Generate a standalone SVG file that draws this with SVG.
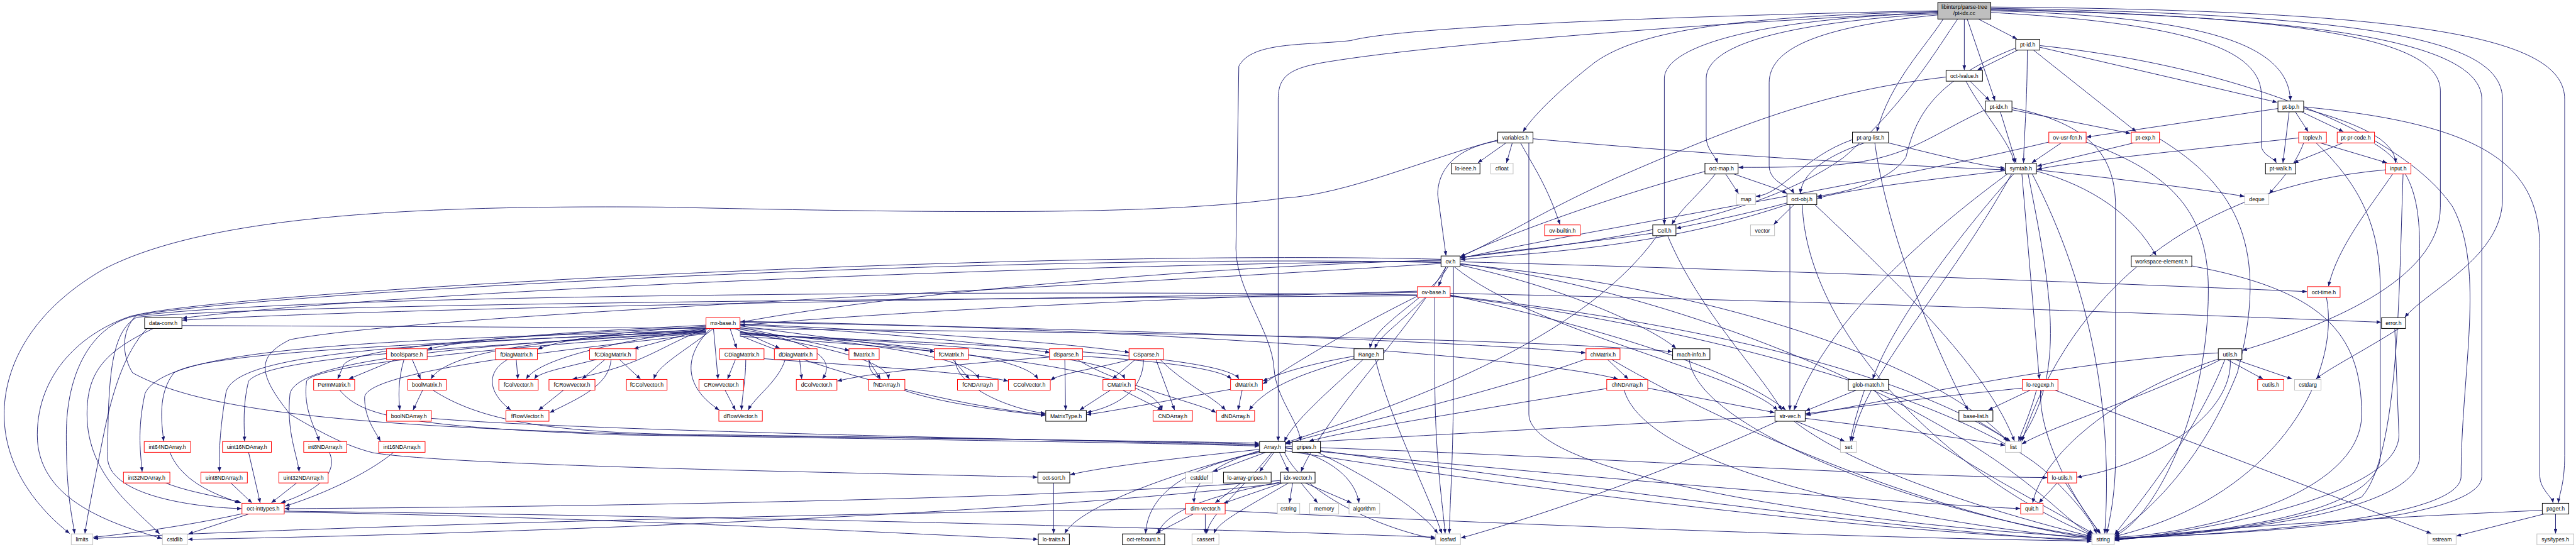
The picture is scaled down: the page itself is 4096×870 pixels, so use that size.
<svg xmlns="http://www.w3.org/2000/svg" width="4096" height="870" viewBox="0 0 4096 870">
<style>
.e path{fill:none;stroke:#191970;stroke-width:1.4;marker-end:url(#a)}
.n rect{fill:#fff;stroke:#000;stroke-width:1.5}
.n.r rect{stroke:#f00}
.n.g rect{stroke:#bfbfbf}
.n.root rect{fill:#bfbfbf}
.n text{font-family:"Liberation Sans",Arial,sans-serif;font-size:13.3px;text-anchor:middle;fill:#000}
</style>
<defs>
<marker id="a" markerUnits="userSpaceOnUse" markerWidth="11" markerHeight="9" viewBox="0 0 11 9" refX="11" refY="4.5" orient="auto"><path d="M0,0L11,4.5L0,9z" fill="#191970"/></marker>
</defs>
<rect width="4096" height="870" fill="#fff"/>
<g transform="scale(0.6588)">
<g id="edges" class="e">
<path d="M4775,46 L4868,94"/>
<path d="M4741,46 L4741,169"/>
<path d="M4748,46 L4815,243"/>
<path d="M4805,26 C5300,40 5524,100 5528,243"/>
<path d="M4805,30 C5250,55 5458,110 5458,230 L5458,350 C5458,375 5488,380 5494,393"/>
<path d="M4805,22 C5600,40 5890,100 5890,220 L5890,500 C5890,680 5600,790 5412,846"/>
<path d="M4805,20 C5750,35 6040,100 6040,240 L6040,480 C6040,620 5860,700 5804,766"/>
<path d="M4805,17 C5900,25 6190,100 6190,240 L6190,1100 C6190,1170 6176,1195 6175,1214"/>
<path d="M4677,28 C4150,40 3950,80 3850,150 C3760,220 3700,280 3676,318"/>
<path d="M4677,31 C4250,45 4017,110 4017,190 L4017,542"/>
<path d="M4677,33 C4300,55 4118,110 4118,190 L4118,330 C4118,360 4140,375 4145,393"/>
<path d="M4677,36 C4380,65 4270,120 4270,200 L4270,400 C4270,440 4320,450 4330,467"/>
<path d="M4725,46 C4680,110 4600,250 4450,380 C4200,560 3700,600 3525,622"/>
<path d="M4690,46 C4650,110 4560,200 4530,318"/>
<path d="M4677,30 C4300,45 3500,100 3200,150 C3110,165 3085,185 3085,240 L3085,1065"/>
<path d="M4677,26 C4200,35 3400,60 3260,98 C3150,110 3020,100 2990,160 L2983,600 C2983,700 3070,800 3075,890 C3080,960 3130,1010 3140,1065"/>
<path d="M4805,24 C5650,40 5990,110 5990,240 L5990,1150 C5990,1260 5400,1290 5104,1299"/>
<path d="M4870,121 L4773,169"/>
<path d="M4893,121 C4893,250 4885,330 4884,393"/>
<path d="M4908,121 L5156,318"/>
<path d="M4923,114 L5496,247"/>
<path d="M4865,116 C4650,200 4620,300 4600,380 C4560,440 4450,465 4386,474"/>
<path d="M4923,110 C5400,160 5800,320 5920,500 C6000,650 5940,900 5940,1150 C5940,1260 5350,1290 5104,1301"/>
<path d="M4755,196 L4802,243"/>
<path d="M4745,196 C4790,280 4850,340 4862,393"/>
<path d="M4697,186 C4400,220 4200,300 3900,430 C3700,520 3600,590 3525,619"/>
<path d="M4856,265 L5142,322"/>
<path d="M4828,270 L4866,393"/>
<path d="M4792,265 C4650,330 4600,390 4400,400 C4300,405 4230,404 4196,404"/>
<path d="M4856,260 C5050,300 5106,380 5106,500 L5106,1100 C5106,1200 5090,1260 5085,1288"/>
<path d="M5498,262 L5036,331"/>
<path d="M5540,270 L5571,318"/>
<path d="M5555,270 L5656,318"/>
<path d="M5525,270 L5510,393"/>
<path d="M5560,262 C5700,300 5780,340 5782,393"/>
<path d="M4558,345 C4700,380 4780,400 4839,406"/>
<path d="M4500,345 C4400,380 4350,420 4345,467"/>
<path d="M4525,345 C4560,600 4700,900 4750,990"/>
<path d="M4471,337 C4350,380 4300,470 4238,474"/>
<path d="M5150,345 L4917,401"/>
<path d="M5212,335 C5400,450 5480,600 5400,900 C5300,1150 5150,1260 5104,1291"/>
<path d="M4975,345 L4904,393"/>
<path d="M4945,343 C4500,450 3800,560 3525,624"/>
<path d="M5035,343 C5250,420 5330,520 5330,700 C5330,1000 5200,1250 5104,1294"/>
<path d="M5548,333 C5300,360 5000,390 4917,409"/>
<path d="M5600,345 L5761,393"/>
<path d="M5560,345 C5540,400 5500,440 5477,468"/>
<path d="M5590,345 C5700,450 5745,550 5745,700 L5745,1100 C5745,1250 5300,1290 5104,1300"/>
<path d="M5655,345 L5536,393"/>
<path d="M5731,347 C5820,400 5840,480 5840,600 L5840,1100 C5840,1250 5300,1290 5104,1302"/>
<path d="M5775,420 C5720,500 5640,600 5620,691"/>
<path d="M5758,410 C5300,450 5000,700 4880,1065"/>
<path d="M5800,420 C5790,700 5790,1100 5700,1200 C5500,1280 5200,1295 5104,1303"/>
<path d="M3635,345 L3567,393"/>
<path d="M3650,345 L3636,393"/>
<path d="M3670,345 C3700,400 3735,450 3765,542"/>
<path d="M3700,335 C4200,380 4600,400 4839,410"/>
<path d="M3615,340 C3500,360 3470,420 3470,470 L3490,617"/>
<path d="M3615,338 C3450,380 3250,470 3100,478 C2800,520 2300,515 1600,500 C1000,495 500,520 250,650 C60,760 10,900 10,1000 C10,1150 120,1250 168,1288"/>
<path d="M3690,345 L3690,1000 C3690,1150 4500,1270 5048,1297"/>
<path d="M4165,420 L4196,467"/>
<path d="M4185,420 C4240,440 4290,455 4313,467"/>
<path d="M4140,420 C4110,460 4060,500 4035,542"/>
<path d="M4115,414 C3900,470 3600,580 3525,620"/>
<path d="M4915,410 C5100,430 5300,455 5417,474"/>
<path d="M4915,413 C5050,450 5150,520 5204,617"/>
<path d="M4840,412 C4600,440 4450,460 4386,479"/>
<path d="M4860,420 C4700,600 4560,800 4520,915"/>
<path d="M4880,420 L4922,915"/>
<path d="M4895,420 C4950,700 4990,900 4875,1065"/>
<path d="M4905,420 C5050,700 5100,1000 5080,1288"/>
<path d="M4855,420 C4700,700 4500,900 4470,1065"/>
<path d="M4845,420 C4600,600 4400,800 4330,990"/>
<path d="M4330,494 L4281,542"/>
<path d="M4313,490 C4200,520 4100,540 4046,551"/>
<path d="M4313,494 C4000,600 3700,610 3525,627"/>
<path d="M4320,494 L4320,990"/>
<path d="M4350,494 C4360,800 4700,1150 5050,1293"/>
<path d="M4380,494 C4600,700 4800,900 4862,1065"/>
<path d="M3989,563 C3800,590 3600,610 3525,622"/>
<path d="M4025,569 C4100,750 4250,900 4300,990"/>
<path d="M4000,569 C3800,850 3300,1000 3103,1069"/>
<path d="M3490,644 L3472,691"/>
<path d="M3495,644 C3450,720 3320,780 3306,841"/>
<path d="M3524,640 C3800,700 4000,800 4045,841"/>
<path d="M3524,632 C4200,650 5000,680 5568,704"/>
<path d="M3478,628 C3000,640 2200,700 1787,778"/>
<path d="M3478,630 C2500,640 1000,700 440,768"/>
<path d="M3510,644 C3700,800 4200,900 4290,990"/>
<path d="M3508,644 L3508,900 C3508,1100 3500,1200 3498,1288"/>
<path d="M3478,634 C2500,610 700,700 320,762 C200,800 90,900 90,1050 C90,1200 250,1260 391,1300"/>
<path d="M3524,636 C4000,700 4500,900 4800,1100 C4950,1200 5000,1270 5050,1290"/>
<path d="M3524,638 C4200,700 4700,900 4845,1065"/>
<path d="M3490,644 C3400,800 3200,1000 3140,1139"/>
<path d="M3478,626 C2500,600 600,700 330,760 C290,800 295,860 320,900 C500,1000 900,1030 1600,1050 C2500,1062 2900,1066 3039,1070"/>
<path d="M3478,636 C2500,700 1000,760 700,820 C620,860 620,900 700,1000 C800,1060 850,1080 900,1093 C1100,1125 2000,1140 2504,1152"/>
<path d="M3440,718 C3380,780 3330,810 3318,841"/>
<path d="M3500,708 C4500,730 5300,760 5747,778"/>
<path d="M3421,706 C2500,720 1000,740 440,773"/>
<path d="M3421,703 C2800,720 2200,750 1787,785"/>
<path d="M3500,712 C3900,800 4200,900 4310,990"/>
<path d="M3463,718 L3463,900 C3463,1100 3480,1200 3488,1288"/>
<path d="M3500,715 C4200,800 4800,1000 4950,1150 C5020,1220 5050,1260 5060,1288"/>
<path d="M3500,714 C4100,780 4600,900 4850,1065"/>
<path d="M3421,712 C2500,700 700,710 320,764 C220,790 160,900 160,1050 C160,1200 175,1250 180,1288"/>
<path d="M3421,714 C2500,720 700,730 330,766 C270,800 260,900 260,1110 C270,1200 480,1225 583,1228"/>
<path d="M3421,715 C3250,800 3120,880 3048,927"/>
<path d="M439,786 C1500,790 3500,800 4036,849"/>
<path d="M370,793 C250,850 210,900 210,1000 C210,1150 330,1230 385,1289"/>
<path d="M355,793 C300,850 270,950 250,1050 C230,1150 210,1250 205,1288"/>
<path d="M1704,785 C1400,800 1150,815 1032,843"/>
<path d="M1704,788 C1500,800 1350,820 1298,843"/>
<path d="M1710,793 L1530,842"/>
<path d="M1762,793 L1778,841"/>
<path d="M1773,793 L1882,841"/>
<path d="M1786,790 L2050,846"/>
<path d="M1786,787 L2256,849"/>
<path d="M1786,784 C2100,800 2400,830 2534,851"/>
<path d="M1786,782 C2200,800 2600,830 2726,851"/>
<path d="M1786,778 C2500,790 3500,820 3827,852"/>
<path d="M1704,790 C1200,810 860,840 830,880 L815,915"/>
<path d="M1704,794 C1300,820 1080,850 1040,915"/>
<path d="M1706,793 C1450,830 1300,870 1270,915"/>
<path d="M1708,793 C1600,830 1560,880 1382,915"/>
<path d="M1722,793 C1650,850 1590,880 1578,915"/>
<path d="M1722,793 L1733,915"/>
<path d="M1786,795 C2000,830 2010,880 1985,915"/>
<path d="M1786,800 C2000,840 2140,870 2145,915"/>
<path d="M1786,802 C2150,830 2350,870 2362,915"/>
<path d="M1786,804 C2200,830 2470,860 2505,915"/>
<path d="M1786,806 C2300,830 2690,860 2715,915"/>
<path d="M1786,808 C2400,830 2960,860 2990,915"/>
<path d="M1786,776 C2700,790 3700,860 3905,915"/>
<path d="M1715,793 C1640,870 1660,940 1736,990"/>
<path d="M1786,810 C2000,900 2300,980 2523,1001"/>
<path d="M1786,812 C2400,850 2780,900 2805,990"/>
<path d="M1704,800 C1000,830 500,850 420,900 C380,950 390,1020 395,1065"/>
<path d="M1704,802 C1100,840 650,860 600,920 C585,980 590,1030 590,1065"/>
<path d="M1704,804 C1200,840 760,880 740,920 C730,990 765,1040 770,1065"/>
<path d="M1704,806 C1300,850 880,900 880,960 C880,1010 905,1040 918,1065"/>
<path d="M1704,798 C900,820 400,840 350,950 C330,1040 340,1100 343,1139"/>
<path d="M1704,799 C1000,830 560,850 545,950 C530,1040 528,1100 530,1139"/>
<path d="M1704,801 C1100,835 720,870 700,950 C690,1040 718,1100 722,1139"/>
<path d="M1775,868 L1756,915"/>
<path d="M1844,866 C2100,885 2350,900 2433,920"/>
<path d="M1800,868 C1800,920 1790,960 1790,990"/>
<path d="M1895,868 C1880,920 1820,960 1806,990"/>
<path d="M1930,868 L1935,915"/>
<path d="M1246,868 L1250,915"/>
<path d="M1225,868 C1170,900 1180,950 1233,990"/>
<path d="M1440,868 C1350,890 1300,900 1290,915"/>
<path d="M1460,868 L1405,915"/>
<path d="M1495,868 L1546,915"/>
<path d="M1475,868 C1470,930 1400,960 1327,996"/>
<path d="M1360,942 L1300,990"/>
<path d="M955,868 L842,915"/>
<path d="M995,868 L1015,915"/>
<path d="M975,868 C960,920 962,960 965,990"/>
<path d="M1020,942 L997,990"/>
<path d="M1045,942 C1150,1010 1300,1040 1600,1048 C2500,1060 2900,1068 3039,1073"/>
<path d="M820,942 C870,1000 950,1030 1500,1050 C2500,1065 2900,1072 3039,1077"/>
<path d="M1041,1010 C1400,1040 2500,1060 3039,1075"/>
<path d="M1750,942 L1775,990"/>
<path d="M2095,868 L2125,915"/>
<path d="M2100,868 C2080,920 2200,970 2523,1003"/>
<path d="M2300,868 L2340,915"/>
<path d="M2305,868 C2310,940 2450,990 2523,998"/>
<path d="M2533,862 C2300,880 2100,900 2021,920"/>
<path d="M2570,868 L2572,990"/>
<path d="M2613,860 C2850,875 2950,895 2972,915"/>
<path d="M2600,868 C2700,930 2900,975 2935,996"/>
<path d="M2740,868 L2685,915"/>
<path d="M2735,866 C2650,890 2560,900 2536,918"/>
<path d="M2760,868 C2760,940 2700,980 2623,996"/>
<path d="M2790,868 L2835,990"/>
<path d="M2800,868 C2850,920 2930,960 2958,990"/>
<path d="M2680,942 L2606,990"/>
<path d="M2710,942 L2805,990"/>
<path d="M2970,940 C2800,970 2700,990 2623,1001"/>
<path d="M2998,942 L2988,990"/>
<path d="M3268,860 C3150,880 3080,905 3048,920"/>
<path d="M3268,866 C3150,900 3060,930 3015,990"/>
<path d="M3290,868 C3200,950 3120,1020 3100,1066"/>
<path d="M3320,868 C3350,1000 3450,1200 3480,1288"/>
<path d="M3880,868 L3930,915"/>
<path d="M3830,866 C3600,950 3200,1040 3103,1072"/>
<path d="M3890,868 C4200,1050 4700,1250 5048,1299"/>
<path d="M3977,937 L4283,996"/>
<path d="M3878,938 C3500,1000 3250,1040 3160,1065"/>
<path d="M3920,942 C3980,1150 4700,1270 5048,1301"/>
<path d="M4077,868 C4100,1050 4700,1250 5048,1296"/>
<path d="M4480,942 L4358,992"/>
<path d="M4500,942 C4480,1000 4470,1040 4466,1065"/>
<path d="M4525,942 C4600,1050 4900,1200 5052,1288"/>
<path d="M4900,942 L4799,990"/>
<path d="M4915,942 C4900,1000 4880,1040 4872,1065"/>
<path d="M4925,942 C4920,1050 5000,1200 5070,1288"/>
<path d="M4960,942 L5868,1288"/>
<path d="M4881,937 C4650,960 4500,980 4358,999"/>
<path d="M4775,1017 L4852,1065"/>
<path d="M4290,1017 C4000,1150 3700,1250 3526,1299"/>
<path d="M4330,1017 C4500,1150 4900,1260 5048,1295"/>
<path d="M4284,1005 C3800,1030 3300,1060 3103,1070"/>
<path d="M4335,1017 L4452,1065"/>
<path d="M4357,1010 C4600,1040 4750,1060 4839,1075"/>
<path d="M5375,868 L5462,915"/>
<path d="M5395,868 L5532,915"/>
<path d="M5354,852 C5000,870 4600,960 4359,1002"/>
<path d="M5360,868 C5200,950 4950,1030 4880,1072"/>
<path d="M5383,868 C5390,1000 5200,1120 5013,1152"/>
<path d="M5370,868 C5300,1050 5150,1230 5104,1290"/>
<path d="M5357,866 C5100,950 4930,1100 4906,1214"/>
<path d="M5790,793 C5700,850 5620,890 5590,915"/>
<path d="M5780,793 L5790,1050 C5790,1200 5300,1285 5104,1304"/>
<path d="M5290,642 C5600,700 5700,800 5700,1000 C5700,1200 5300,1290 5104,1297"/>
<path d="M5615,718 C5650,900 5500,1200 5104,1295"/>
<path d="M6168,1241 L6168,1288"/>
<path d="M6140,1241 L5929,1294"/>
<path d="M6136,1232 C5500,1260 5200,1290 5104,1305"/>
<path d="M5560,258 C6000,300 6130,400 6130,600 L6130,1150 C6130,1180 6160,1200 6162,1214"/>
<path d="M3040,1085 C2800,1110 2650,1130 2583,1146"/>
<path d="M3055,1092 L2928,1139"/>
<path d="M3075,1092 L3040,1139"/>
<path d="M3088,1092 L3110,1139"/>
<path d="M3040,1088 C2900,1130 2880,1180 2882,1214"/>
<path d="M3040,1090 C2800,1150 2600,1230 2570,1288"/>
<path d="M3042,1092 C2850,1130 2770,1200 2765,1288"/>
<path d="M3070,1092 C3000,1180 2920,1240 2912,1288"/>
<path d="M3102,1080 C3200,1100 3270,1150 3280,1214"/>
<path d="M3100,1092 C3150,1200 3350,1280 3464,1301"/>
<path d="M3102,1078 C3800,1100 4500,1150 4941,1153"/>
<path d="M3102,1082 C3800,1150 4500,1210 4876,1228"/>
<path d="M3102,1088 C3800,1200 4600,1290 5048,1303"/>
<path d="M2995,1166 L2933,1214"/>
<path d="M3095,1166 L2953,1215"/>
<path d="M3090,1160 C2500,1210 1200,1225 687,1228"/>
<path d="M3090,1164 C2900,1200 2810,1240 2795,1288"/>
<path d="M3110,1166 C3000,1230 2940,1260 2930,1288"/>
<path d="M3120,1166 L3112,1214"/>
<path d="M3140,1166 L3180,1214"/>
<path d="M3150,1166 L3262,1214"/>
<path d="M3095,1166 C2500,1240 1200,1290 454,1302"/>
<path d="M2880,1241 L2790,1288"/>
<path d="M2909,1241 L2909,1288"/>
<path d="M2957,1233 C3500,1260 4500,1300 5048,1306"/>
<path d="M2862,1228 C2000,1240 800,1270 226,1300"/>
<path d="M2543,1166 L2543,1288"/>
<path d="M3180,1092 C3300,1150 3430,1230 3470,1288"/>
<path d="M3187,1088 C4000,1200 4600,1280 5048,1307"/>
<path d="M4965,1166 L4921,1214"/>
<path d="M4985,1166 L5068,1288"/>
<path d="M586,1240 C450,1270 300,1290 225,1297"/>
<path d="M600,1241 L455,1289"/>
<path d="M686,1236 C1500,1250 2200,1290 2505,1302"/>
<path d="M686,1234 C2000,1250 3000,1280 3464,1297"/>
<path d="M410,1092 C440,1170 540,1200 578,1214"/>
<path d="M600,1092 L628,1214"/>
<path d="M795,1092 C820,1150 750,1190 678,1214"/>
<path d="M950,1092 C880,1150 760,1200 688,1222"/>
<path d="M400,1166 C460,1190 540,1200 582,1214"/>
<path d="M557,1166 L608,1214"/>
<path d="M716,1166 L655,1214"/>
</g>
<g id="root" class="n root"><rect x="4677" y="6" width="128" height="40"/><text x="4741" y="21">libinterp/parse-tree</text><text x="4741" y="37">/pt-idx.cc</text></g>
<g id="pt_id" class="n"><rect x="4865" y="95" width="58" height="26"/><text x="4894" y="113">pt-id.h</text></g>
<g id="oct_lvalue" class="n"><rect x="4697" y="170" width="88" height="26"/><text x="4741" y="188">oct-lvalue.h</text></g>
<g id="pt_idx_h" class="n"><rect x="4792" y="244" width="64" height="26"/><text x="4824" y="262">pt-idx.h</text></g>
<g id="pt_bp" class="n"><rect x="5498" y="244" width="62" height="26"/><text x="5529" y="262">pt-bp.h</text></g>
<g id="variables" class="n"><rect x="3615" y="319" width="85" height="26"/><text x="3657.5" y="337">variables.h</text></g>
<g id="pt_arg_list" class="n"><rect x="4471" y="319" width="87" height="26"/><text x="4514.5" y="337">pt-arg-list.h</text></g>
<g id="ov_usr_fcn" class="n r"><rect x="4945" y="319" width="90" height="26"/><text x="4990" y="337">ov-usr-fcn.h</text></g>
<g id="pt_exp" class="n r"><rect x="5144" y="319" width="68" height="26"/><text x="5178" y="337">pt-exp.h</text></g>
<g id="toplev" class="n r"><rect x="5548" y="319" width="67" height="26"/><text x="5581.5" y="337">toplev.h</text></g>
<g id="pt_pr_code" class="n r"><rect x="5641" y="319" width="90" height="26"/><text x="5686" y="337">pt-pr-code.h</text></g>
<g id="lo_ieee" class="n"><rect x="3503" y="394" width="69" height="26"/><text x="3537.5" y="412">lo-ieee.h</text></g>
<g id="cfloat" class="n g"><rect x="3598" y="394" width="54" height="26"/><text x="3625" y="412">cfloat</text></g>
<g id="oct_map" class="n"><rect x="4115" y="394" width="80" height="26"/><text x="4155" y="412">oct-map.h</text></g>
<g id="symtab" class="n"><rect x="4840" y="394" width="75" height="26"/><text x="4877.5" y="412">symtab.h</text></g>
<g id="pt_walk" class="n"><rect x="5468" y="394" width="73" height="26"/><text x="5504.5" y="412">pt-walk.h</text></g>
<g id="input" class="n r"><rect x="5758" y="394" width="61" height="26"/><text x="5788.5" y="412">input.h</text></g>
<g id="map" class="n g"><rect x="4191" y="468" width="46" height="26"/><text x="4214" y="486">map</text></g>
<g id="oct_obj" class="n"><rect x="4313" y="468" width="72" height="26"/><text x="4349" y="486">oct-obj.h</text></g>
<g id="deque" class="n g"><rect x="5418" y="468" width="58" height="26"/><text x="5447" y="486">deque</text></g>
<g id="ov_builtin" class="n r"><rect x="3728" y="543" width="86" height="26"/><text x="3771" y="561">ov-builtin.h</text></g>
<g id="cell" class="n"><rect x="3989" y="543" width="56" height="26"/><text x="4017" y="561">Cell.h</text></g>
<g id="vector" class="n g"><rect x="4225" y="543" width="58" height="26"/><text x="4254" y="561">vector</text></g>
<g id="ov" class="n"><rect x="3478" y="618" width="46" height="26"/><text x="3501" y="636">ov.h</text></g>
<g id="ws_elem" class="n"><rect x="5144" y="618" width="146" height="26"/><text x="5217" y="636">workspace-element.h</text></g>
<g id="ov_base" class="n r"><rect x="3421" y="692" width="79" height="26"/><text x="3460.5" y="710">ov-base.h</text></g>
<g id="oct_time" class="n r"><rect x="5569" y="692" width="79" height="26"/><text x="5608.5" y="710">oct-time.h</text></g>
<g id="data_conv" class="n"><rect x="349" y="767" width="90" height="26"/><text x="394" y="785">data-conv.h</text></g>
<g id="mx_base" class="n r"><rect x="1704" y="767" width="82" height="26"/><text x="1745" y="785">mx-base.h</text></g>
<g id="error" class="n"><rect x="5748" y="767" width="58" height="26"/><text x="5777" y="785">error.h</text></g>
<g id="boolSparse" class="n r"><rect x="933" y="842" width="98" height="26"/><text x="982" y="860">boolSparse.h</text></g>
<g id="fDiagMatrix" class="n r"><rect x="1196" y="842" width="101" height="26"/><text x="1246.5" y="860">fDiagMatrix.h</text></g>
<g id="fCDiagMatrix" class="n r"><rect x="1423" y="842" width="112" height="26"/><text x="1479" y="860">fCDiagMatrix.h</text></g>
<g id="CDiagMatrix" class="n r"><rect x="1737" y="842" width="107" height="26"/><text x="1790.5" y="860">CDiagMatrix.h</text></g>
<g id="dDiagMatrix" class="n r"><rect x="1869" y="842" width="103" height="26"/><text x="1920.5" y="860">dDiagMatrix.h</text></g>
<g id="fMatrix" class="n r"><rect x="2049" y="842" width="73" height="26"/><text x="2085.5" y="860">fMatrix.h</text></g>
<g id="fCMatrix" class="n r"><rect x="2255" y="842" width="82" height="26"/><text x="2296" y="860">fCMatrix.h</text></g>
<g id="dSparse" class="n r"><rect x="2533" y="842" width="80" height="26"/><text x="2573" y="860">dSparse.h</text></g>
<g id="CSparse" class="n r"><rect x="2725" y="842" width="83" height="26"/><text x="2766.5" y="860">CSparse.h</text></g>
<g id="Range" class="n"><rect x="3268" y="842" width="71" height="26"/><text x="3303.5" y="860">Range.h</text></g>
<g id="chMatrix" class="n r"><rect x="3828" y="842" width="82" height="26"/><text x="3869" y="860">chMatrix.h</text></g>
<g id="mach_info" class="n"><rect x="4037" y="842" width="90" height="26"/><text x="4082" y="860">mach-info.h</text></g>
<g id="utils" class="n"><rect x="5354" y="842" width="57" height="26"/><text x="5382.5" y="860">utils.h</text></g>
<g id="PermMatrix" class="n r"><rect x="757" y="916" width="99" height="26"/><text x="806.5" y="934">PermMatrix.h</text></g>
<g id="boolMatrix" class="n r"><rect x="984" y="916" width="93" height="26"/><text x="1030.5" y="934">boolMatrix.h</text></g>
<g id="fColVector" class="n r"><rect x="1204" y="916" width="95" height="26"/><text x="1251.5" y="934">fColVector.h</text></g>
<g id="fCRowVector" class="n r"><rect x="1325" y="916" width="111" height="26"/><text x="1380.5" y="934">fCRowVector.h</text></g>
<g id="fCColVector" class="n r"><rect x="1512" y="916" width="98" height="26"/><text x="1561" y="934">fCColVector.h</text></g>
<g id="CRowVector" class="n r"><rect x="1687" y="916" width="108" height="26"/><text x="1741" y="934">CRowVector.h</text></g>
<g id="dColVector" class="n r"><rect x="1922" y="916" width="98" height="26"/><text x="1971" y="934">dColVector.h</text></g>
<g id="fNDArray" class="n r"><rect x="2096" y="916" width="88" height="26"/><text x="2140" y="934">fNDArray.h</text></g>
<g id="fCNDArray" class="n r"><rect x="2311" y="916" width="98" height="26"/><text x="2360" y="934">fCNDArray.h</text></g>
<g id="CColVector" class="n r"><rect x="2434" y="916" width="101" height="26"/><text x="2484.5" y="934">CColVector.h</text></g>
<g id="CMatrix" class="n r"><rect x="2662" y="916" width="78" height="26"/><text x="2701" y="934">CMatrix.h</text></g>
<g id="dMatrix" class="n r"><rect x="2970" y="916" width="77" height="26"/><text x="3008.5" y="934">dMatrix.h</text></g>
<g id="chNDArray" class="n r"><rect x="3878" y="916" width="99" height="26"/><text x="3927.5" y="934">chNDArray.h</text></g>
<g id="glob_match" class="n"><rect x="4461" y="916" width="97" height="26"/><text x="4509.5" y="934">glob-match.h</text></g>
<g id="lo_regexp" class="n r"><rect x="4881" y="916" width="86" height="26"/><text x="4924" y="934">lo-regexp.h</text></g>
<g id="cutils" class="n r"><rect x="5449" y="916" width="63" height="26"/><text x="5480.5" y="934">cutils.h</text></g>
<g id="cstdarg" class="n g"><rect x="5538" y="916" width="64" height="26"/><text x="5570" y="934">cstdarg</text></g>
<g id="boolNDArray" class="n r"><rect x="933" y="991" width="108" height="26"/><text x="987" y="1009">boolNDArray.h</text></g>
<g id="fRowVector" class="n r"><rect x="1221" y="991" width="104" height="26"/><text x="1273" y="1009">fRowVector.h</text></g>
<g id="dRowVector" class="n r"><rect x="1735" y="991" width="105" height="26"/><text x="1787.5" y="1009">dRowVector.h</text></g>
<g id="MatrixType" class="n"><rect x="2524" y="991" width="98" height="26"/><text x="2573" y="1009">MatrixType.h</text></g>
<g id="CNDArray" class="n r"><rect x="2783" y="991" width="95" height="26"/><text x="2830.5" y="1009">CNDArray.h</text></g>
<g id="dNDArray" class="n r"><rect x="2936" y="991" width="92" height="26"/><text x="2982" y="1009">dNDArray.h</text></g>
<g id="str_vec" class="n"><rect x="4284" y="991" width="73" height="26"/><text x="4320.5" y="1009">str-vec.h</text></g>
<g id="base_list" class="n"><rect x="4728" y="991" width="82" height="26"/><text x="4769" y="1009">base-list.h</text></g>
<g id="int64NDArray" class="n r"><rect x="348" y="1066" width="112" height="26"/><text x="404" y="1084">int64NDArray.h</text></g>
<g id="uint16NDArray" class="n r"><rect x="537" y="1066" width="118" height="26"/><text x="596" y="1084">uint16NDArray.h</text></g>
<g id="int8NDArray" class="n r"><rect x="733" y="1066" width="104" height="26"/><text x="785" y="1084">int8NDArray.h</text></g>
<g id="int16NDArray" class="n r"><rect x="914" y="1066" width="112" height="26"/><text x="970" y="1084">int16NDArray.h</text></g>
<g id="Array" class="n"><rect x="3040" y="1066" width="62" height="26"/><text x="3071" y="1084">Array.h</text></g>
<g id="gripes" class="n"><rect x="3119" y="1066" width="68" height="26"/><text x="3153" y="1084">gripes.h</text></g>
<g id="set" class="n g"><rect x="4442" y="1066" width="39" height="26"/><text x="4461.5" y="1084">set</text></g>
<g id="list" class="n g"><rect x="4840" y="1066" width="39" height="26"/><text x="4859.5" y="1084">list</text></g>
<g id="int32NDArray" class="n r"><rect x="298" y="1140" width="112" height="26"/><text x="354" y="1158">int32NDArray.h</text></g>
<g id="uint8NDArray" class="n r"><rect x="485" y="1140" width="112" height="26"/><text x="541" y="1158">uint8NDArray.h</text></g>
<g id="uint32NDArray" class="n r"><rect x="673" y="1140" width="119" height="26"/><text x="732.5" y="1158">uint32NDArray.h</text></g>
<g id="oct_sort" class="n"><rect x="2505" y="1140" width="77" height="26"/><text x="2543.5" y="1158">oct-sort.h</text></g>
<g id="cstddef" class="n g"><rect x="2862" y="1140" width="65" height="26"/><text x="2894.5" y="1158">cstddef</text></g>
<g id="lo_array_gripes" class="n"><rect x="2953" y="1140" width="115" height="26"/><text x="3010.5" y="1158">lo-array-gripes.h</text></g>
<g id="idx_vector" class="n"><rect x="3091" y="1140" width="83" height="26"/><text x="3132.5" y="1158">idx-vector.h</text></g>
<g id="lo_utils" class="n r"><rect x="4942" y="1140" width="70" height="26"/><text x="4977" y="1158">lo-utils.h</text></g>
<g id="oct_inttypes" class="n r"><rect x="584" y="1215" width="102" height="26"/><text x="635" y="1233">oct-inttypes.h</text></g>
<g id="dim_vector" class="n r"><rect x="2862" y="1215" width="95" height="26"/><text x="2909.5" y="1233">dim-vector.h</text></g>
<g id="cstring" class="n g"><rect x="3083" y="1215" width="54" height="26"/><text x="3110" y="1233">cstring</text></g>
<g id="memory" class="n g"><rect x="3161" y="1215" width="70" height="26"/><text x="3196" y="1233">memory</text></g>
<g id="algorithm" class="n g"><rect x="3256" y="1215" width="74" height="26"/><text x="3293" y="1233">algorithm</text></g>
<g id="quit" class="n r"><rect x="4877" y="1215" width="54" height="26"/><text x="4904" y="1233">quit.h</text></g>
<g id="pager" class="n"><rect x="6136" y="1215" width="64" height="26"/><text x="6168" y="1233">pager.h</text></g>
<g id="limits" class="n g"><rect x="172" y="1289" width="52" height="26"/><text x="198" y="1307">limits</text></g>
<g id="cstdlib" class="n g"><rect x="392" y="1289" width="60" height="26"/><text x="422" y="1307">cstdlib</text></g>
<g id="lo_traits" class="n"><rect x="2506" y="1289" width="75" height="26"/><text x="2543.5" y="1307">lo-traits.h</text></g>
<g id="oct_refcount" class="n"><rect x="2709" y="1289" width="102" height="26"/><text x="2760" y="1307">oct-refcount.h</text></g>
<g id="cassert" class="n g"><rect x="2877" y="1289" width="65" height="26"/><text x="2909.5" y="1307">cassert</text></g>
<g id="iosfwd" class="n g"><rect x="3465" y="1289" width="60" height="26"/><text x="3495" y="1307">iosfwd</text></g>
<g id="string" class="n g"><rect x="5049" y="1289" width="54" height="26"/><text x="5076" y="1307">string</text></g>
<g id="sstream" class="n g"><rect x="5860" y="1289" width="68" height="26"/><text x="5894" y="1307">sstream</text></g>
<g id="sys_types" class="n g"><rect x="6123" y="1289" width="89" height="26"/><text x="6167.5" y="1307">sys/types.h</text></g>
</g>
</svg>
